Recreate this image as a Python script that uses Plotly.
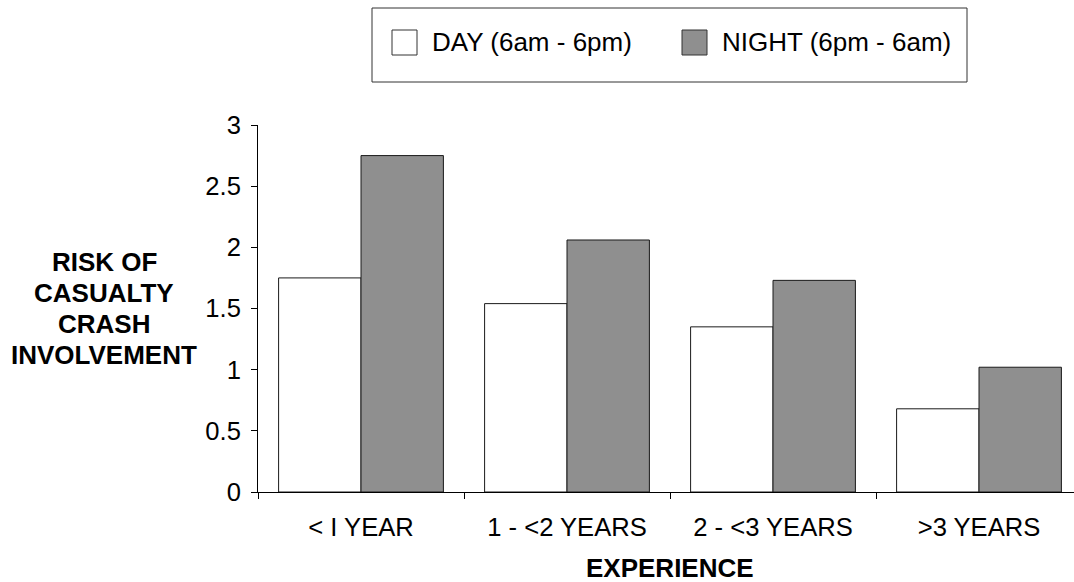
import plotly.graph_objects as go

categories = ["< I YEAR", "1 - <2 YEARS", "2 - <3 YEARS", ">3 YEARS"]
day_values = [1.75, 1.54, 1.35, 0.68]
night_values = [2.75, 2.06, 1.73, 1.02]
series_names = ["DAY (6am - 6pm)", "NIGHT (6pm - 6am)"]
y_title_lines = ["RISK OF", "CASUALTY", "CRASH", "INVOLVEMENT"]
x_title = "EXPERIENCE"

W, H = 1074, 582
L, R, T, B = 258, 0, 125, 90
PW = W - L - R
PH = H - T - B

def px(x):
    return (x - L) / PW

def py(y):
    return (H - B - y) / PH

FONT = "Liberation Sans, Arial, sans-serif"
TICK_SIZE = 25.6
TEXT_SIZE = 26

fig = go.Figure()
fig.add_trace(go.Bar(x=categories, y=day_values, name=series_names[0],
                     marker=dict(color="white", line=dict(color="#1a1a1a", width=1)),
                     showlegend=False, hoverinfo="skip"))
fig.add_trace(go.Bar(x=categories, y=night_values, name=series_names[1],
                     marker=dict(color="#8f8f8f", line=dict(color="#1a1a1a", width=1)),
                     showlegend=False, hoverinfo="skip"))

cat_w = 206.0
fig.update_layout(
    width=W, height=H, autosize=False,
    margin=dict(l=L, r=R, t=T, b=B, pad=0),
    paper_bgcolor="white", plot_bgcolor="white",
    barmode="group", bargap=0.2, bargroupgap=0,
    font=dict(family=FONT, color="black", size=TICK_SIZE),
    xaxis=dict(type="category", range=[-0.5, -0.5 + PW / cat_w],
               showline=True, linecolor="black", linewidth=1,
               ticks="outside", ticklen=6, tickcolor="black", tickson="boundaries",
               showgrid=False, zeroline=False, ticklabelstandoff=12,
               tickfont=dict(size=TICK_SIZE, family=FONT, color="black")),
    yaxis=dict(range=[0, 3], dtick=0.5, tick0=0,
               showline=True, linecolor="black", linewidth=1,
               ticks="outside", ticklen=6, tickcolor="black",
               showgrid=False, zeroline=False, ticklabelstandoff=5,
               tickfont=dict(size=TICK_SIZE, family=FONT, color="black")),
)

# y-axis title, one line per annotation for tight line spacing
for i, line in enumerate(y_title_lines):
    fig.add_annotation(xref="paper", yref="paper", x=px(104), y=py(262 + 31 * i),
                       text="<b>" + line + "</b>",
                       showarrow=False, xanchor="center", yanchor="middle",
                       font=dict(size=TEXT_SIZE, family=FONT, color="black"))
# x-axis title
fig.add_annotation(xref="paper", yref="paper", x=px(670), y=py(568),
                   text="<b>" + x_title + "</b>", showarrow=False,
                   xanchor="center", yanchor="middle",
                   font=dict(size=TEXT_SIZE, family=FONT, color="black"))

# legend box
fig.add_shape(type="rect", xref="paper", yref="paper",
              x0=px(372), x1=px(967), y0=py(82), y1=py(8),
              line=dict(color="#333333", width=1), fillcolor="white")
legend_items = [(series_names[0], "white", 392, 430), (series_names[1], "#8f8f8f", 682, 720)]
for name, color, sx, tx in legend_items:
    fig.add_shape(type="rect", xref="paper", yref="paper",
                  x0=px(sx), x1=px(sx + 25), y0=py(55), y1=py(30),
                  line=dict(color="#333333", width=1), fillcolor=color)
    fig.add_annotation(xref="paper", yref="paper", x=px(tx), y=py(42.5),
                       text=name, showarrow=False, xanchor="left", yanchor="middle",
                       font=dict(size=TEXT_SIZE, family=FONT, color="black"))

fig.write_html("out.html", config={"displayModeBar": False},
               post_script="document.body.style.margin='0';document.body.style.overflow='hidden';")
